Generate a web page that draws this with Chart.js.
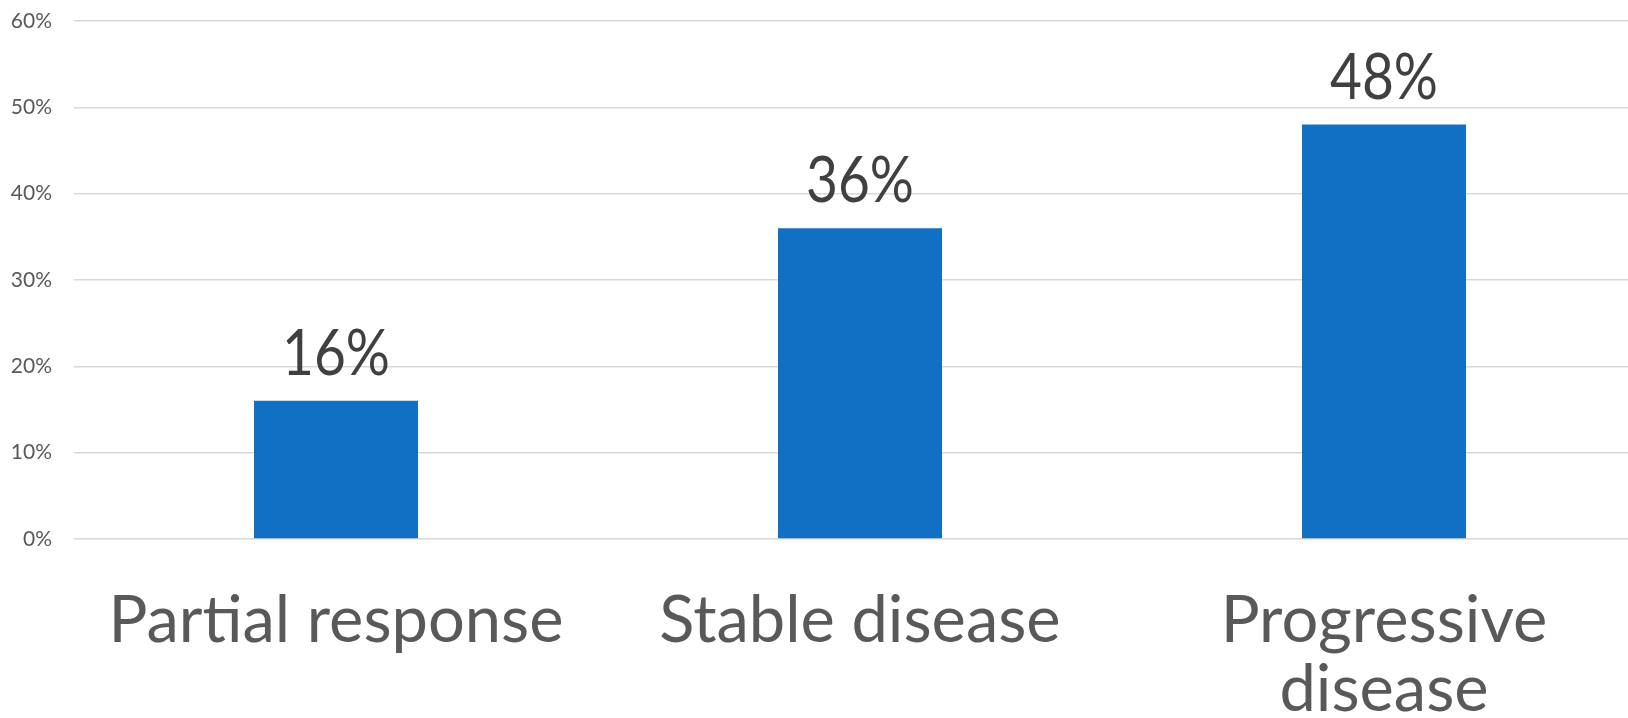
<!DOCTYPE html>
<html>
<head>
<meta charset="utf-8">
<script src="https://cdn.jsdelivr.net/npm/chart.js@4/dist/chart.umd.min.js"></script>
<style>
  html, body { margin: 0; padding: 0; background: #fff; overflow: hidden; }
  #wrap { position: relative; width: 1646px; height: 718px; }
</style>
</head>
<body>
<div id="wrap"><canvas id="chart"></canvas></div>
<script>
// Response categories and share of patients (%)
const categories = ['Partial response', 'Stable disease', ['Progressive', 'disease']];
const shares = [16, 36, 48];
const yTicks = [0, 10, 20, 30, 40, 50, 60];

// Writes each bar's value above it, in a slightly condensed face
const valueLabels = {
  id: 'valueLabels',
  afterDatasetsDraw(chart) {
    const ctx = chart.ctx;
    const meta = chart.getDatasetMeta(0);
    meta.data.forEach((bar, i) => {
      ctx.save();
      ctx.translate(bar.x, bar.y - 26);
      ctx.scale(0.86, 1);
      ctx.font = '64px "Lato", sans-serif';
      ctx.fillStyle = '#404040';
      ctx.textAlign = 'center';
      ctx.textBaseline = 'alphabetic';
      ctx.fillText(shares[i] + '%', 0, 0);
      ctx.restore();
    });
  }
};

new Chart(document.getElementById('chart'), {
  type: 'bar',
  data: {
    labels: categories,
    datasets: [{
      data: shares,
      backgroundColor: '#116fc4',
      borderWidth: 0,
      categoryPercentage: 1,
      barPercentage: 0.313
    }]
  },
  options: {
    responsive: true,
    maintainAspectRatio: false,
    animation: false,
    layout: { padding: { top: 21, left: 0, right: 0, bottom: 0 } },
    plugins: { legend: { display: false }, tooltip: { enabled: false } },
    scales: {
      x: {
        grid: { display: false },
        border: { display: false },
        ticks: {
          color: '#595959',
          font: { family: 'Lato', size: 65, lineHeight: 1.06 },
          padding: 40,
          maxRotation: 0,
          autoSkip: false
        },
        afterFit(scale) { scale.height = 179; }
      },
      y: {
        min: 0,
        max: 60,
        afterBuildTicks(scale) { scale.ticks = yTicks.map(v => ({ value: v })); },
        grid: { color: '#d9d9d9', lineWidth: 1.5, drawTicks: false },
        border: { display: false },
        ticks: {
          color: '#595959',
          font: { family: 'Lato', size: 21 },
          padding: 22,
          callback: v => v + '%'
        },
        afterFit(scale) {
          scale.width = 74;
          scale.paddingTop = 0;
          scale.paddingBottom = 0;
        }
      }
    }
  },
  plugins: [valueLabels]
});
</script>
</body>
</html>
